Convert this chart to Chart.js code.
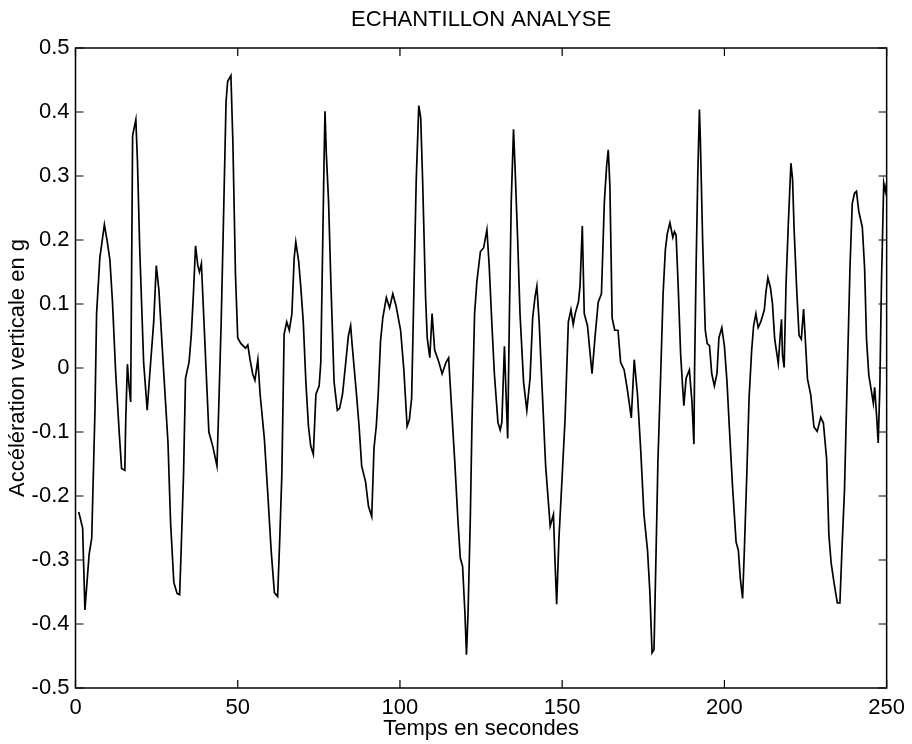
<!DOCTYPE html>
<html>
<head>
<meta charset="utf-8">
<script src="https://cdn.jsdelivr.net/npm/chart.js@4/dist/chart.umd.min.js"></script>
<style>
  html, body { margin: 0; padding: 0; background: #ffffff; }
  #wrap { width: 912px; height: 744px; }
</style>
</head>
<body>
<div id="wrap"><canvas id="c" width="912" height="744"></canvas></div>
<script>
// ---- Data ----
const chartTitle = "ECHANTILLON ANALYSE";
const xAxisTitle = "Temps en secondes";
const yAxisTitle = "Accélération verticale en g";

const xTickValues = [0, 50, 100, 150, 200, 250];
const yTickValues = [-0.5, -0.4, -0.3, -0.2, -0.1, 0, 0.1, 0.2, 0.3, 0.4, 0.5];

const times = [
  1.0, 2.2, 2.9, 4.2, 5.0, 6.0, 6.5, 7.5, 8.9, 9.8, 10.6, 11.4, 12.4, 13.5, 14.2, 15.2, 15.5, 16.0, 16.4, 17.0,
  17.6, 18.6, 19.1, 19.8, 21.0, 22.1, 22.9, 24.1, 24.9, 25.7, 27.0, 28.5, 29.3, 30.3, 31.3, 32.1, 32.6, 33.3, 33.9, 35.0,
  35.7, 36.4, 37.0, 37.7, 38.2, 38.8, 39.6, 40.3, 41.1, 42.3, 43.6, 44.2, 44.9, 45.6, 46.4, 46.9, 47.9, 48.5, 49.3, 50.0,
  51.0, 52.4, 53.1, 53.8, 54.6, 55.3, 56.2, 56.9, 58.2, 59.2, 60.3, 61.3, 62.3, 63.0, 63.6, 64.3, 65.1, 65.9, 66.7, 67.4,
  67.9, 68.8, 69.5, 70.2, 71.0, 71.8, 72.5, 73.3, 74.1, 75.1, 75.6, 76.1, 76.6, 76.9, 77.3, 78.0, 78.7, 79.7, 80.7, 81.4,
  82.3, 83.3, 84.1, 84.8, 85.3, 86.6, 87.4, 88.2, 89.4, 90.3, 91.3, 92.0, 92.7, 93.3, 94.0, 94.7, 95.8, 96.8, 97.8, 98.8,
  100.2, 101.2, 102.2, 102.9, 103.6, 104.3, 105.0, 105.8, 106.4, 107.0, 107.9, 108.4, 109.2, 109.9, 110.7, 112.0, 113.0, 114.2, 115.0, 115.8,
  116.9, 117.9, 118.6, 119.3, 120.0, 120.5, 121.0, 121.7, 122.2, 123.0, 123.7, 124.8, 125.8, 126.8, 127.5, 128.3, 129.1, 130.2, 130.9, 131.4,
  132.2, 132.7, 133.2, 133.7, 134.3, 135.0, 135.5, 136.3, 137.0, 138.1, 139.1, 140.1, 140.9, 141.6, 142.2, 142.9, 143.9, 144.9, 146.3, 147.3,
  147.8, 148.3, 149.0, 149.9, 150.9, 151.9, 152.7, 153.4, 154.0, 155.0, 155.5, 156.2, 156.8, 157.8, 158.5, 159.2, 160.1, 161.1, 162.1, 163.0,
  163.7, 164.2, 164.7, 165.4, 166.2, 167.2, 168.0, 169.1, 170.1, 171.3, 172.2, 173.2, 174.2, 175.2, 176.3, 177.0, 177.7, 178.3, 179.0, 179.5,
  180.4, 181.1, 181.8, 182.4, 183.2, 184.1, 184.6, 185.1, 185.7, 186.5, 187.1, 187.5, 188.2, 189.2, 190.0, 190.6, 190.8, 191.3, 191.8, 192.3,
  192.6, 193.3, 194.1, 194.7, 195.4, 196.1, 196.9, 197.7, 198.3, 199.2, 200.0, 200.8, 201.5, 202.5, 203.6, 204.3, 204.9, 205.6, 206.1, 206.9,
  207.6, 208.4, 209.0, 209.7, 210.4, 211.2, 212.3, 212.8, 213.4, 214.2, 214.8, 215.5, 216.6, 217.2, 217.6, 217.9, 218.4, 219.0, 219.7, 220.5,
  221.0, 221.5, 222.3, 223.0, 223.7, 224.4, 224.8, 225.6, 226.6, 227.6, 228.6, 229.7, 230.5, 231.5, 232.2, 232.9, 233.8, 234.8, 235.6, 236.3,
  237.0, 237.9, 238.7, 239.4, 240.1, 240.7, 241.4, 242.5, 243.2, 243.8, 244.5, 245.3, 245.9, 246.3, 246.9, 247.4, 247.9, 248.4, 249.1, 249.6,
  250.0
];

const accel = [
  -0.225, -0.250, -0.378, -0.291, -0.266, -0.066, 0.085, 0.172, 0.224, 0.197, 0.169, 0.103, -0.009, -0.103, -0.157, -0.160, -0.078, 0.006, -0.022, -0.053,
  0.363, 0.388, 0.322, 0.185, 0.009, -0.066, -0.009, 0.072, 0.160, 0.122, 0.009, -0.116, -0.241, -0.335, -0.352, -0.354, -0.279, -0.166, -0.016, 0.009,
  0.053, 0.122, 0.191, 0.160, 0.150, 0.163, 0.072, -0.009, -0.100, -0.122, -0.153, -0.053, 0.072, 0.229, 0.416, 0.448, 0.457, 0.354, 0.147, 0.047,
  0.038, 0.031, 0.036, 0.013, -0.009, -0.019, 0.013, -0.041, -0.110, -0.191, -0.285, -0.351, -0.357, -0.260, -0.166, 0.053, 0.072, 0.059, 0.085, 0.172,
  0.197, 0.166, 0.122, 0.072, -0.022, -0.091, -0.122, -0.135, -0.041, -0.028, 0.009, 0.166, 0.322, 0.401, 0.335, 0.260, 0.135, -0.022, -0.066, -0.063,
  -0.041, 0.009, 0.050, 0.066, 0.034, -0.041, -0.091, -0.153, -0.178, -0.216, -0.232, -0.125, -0.091, -0.041, 0.041, 0.078, 0.110, 0.094, 0.116, 0.097,
  0.059, -0.003, -0.091, -0.081, -0.047, 0.122, 0.291, 0.410, 0.391, 0.291, 0.110, 0.047, 0.016, 0.085, 0.028, 0.009, -0.009, 0.009, 0.016, -0.053,
  -0.147, -0.241, -0.297, -0.310, -0.380, -0.448, -0.380, -0.230, -0.085, 0.085, 0.135, 0.182, 0.188, 0.216, 0.160, 0.072, -0.009, -0.085, -0.097, -0.085,
  0.034, -0.041, -0.110, 0.072, 0.260, 0.373, 0.310, 0.197, 0.085, -0.022, -0.066, -0.016, 0.078, 0.110, 0.128, 0.072, -0.041, -0.153, -0.247, -0.229,
  -0.304, -0.369, -0.266, -0.178, -0.078, 0.072, 0.091, 0.068, 0.085, 0.103, 0.128, 0.222, 0.085, 0.066, 0.028, -0.009, 0.047, 0.103, 0.116, 0.260,
  0.316, 0.341, 0.285, 0.078, 0.059, 0.059, 0.009, -0.003, -0.034, -0.078, 0.013, -0.041, -0.128, -0.229, -0.285, -0.348, -0.445, -0.440, -0.272, -0.147,
  -0.003, 0.116, 0.185, 0.210, 0.227, 0.204, 0.213, 0.208, 0.135, 0.022, -0.028, -0.059, -0.016, -0.003, -0.053, -0.119, -0.003, 0.166, 0.304, 0.404,
  0.354, 0.197, 0.059, 0.038, 0.035, -0.009, -0.028, -0.009, 0.047, 0.063, 0.034, -0.022, -0.091, -0.185, -0.272, -0.285, -0.329, -0.360, -0.291, -0.166,
  -0.047, 0.028, 0.066, 0.085, 0.063, 0.072, 0.091, 0.119, 0.141, 0.125, 0.101, 0.045, 0.007, 0.051, 0.076, 0.020, 0.001, 0.132, 0.226, 0.320,
  0.295, 0.214, 0.120, 0.051, 0.045, 0.092, 0.057, -0.017, -0.042, -0.092, -0.099, -0.077, -0.086, -0.142, -0.261, -0.305, -0.336, -0.367, -0.367, -0.274,
  -0.192, -0.005, 0.157, 0.257, 0.273, 0.276, 0.245, 0.220, 0.157, 0.045, -0.011, -0.036, -0.055, -0.030, -0.074, -0.117, -0.030, 0.132, 0.289, 0.276,
  0.290
];

// ---- Styling ----
const FONT_FAMILY = '"Liberation Sans", Arial, Helvetica, sans-serif';
const FONT_SIZE = 22;
const INK = '#000000';
const TICK_LEN = 8;

// Box, inward ticks on all four sides, and the title centred over the axes (MATLAB style)
const boxAndTicks = {
  id: 'boxAndTicks',
  afterDatasetsDraw(chart) {
    const { ctx, chartArea: a, scales: { x, y } } = chart;
    ctx.save();
    ctx.strokeStyle = INK;
    ctx.lineWidth = 1.5;
    ctx.strokeRect(a.left, a.top, a.right - a.left, a.bottom - a.top);
    ctx.lineWidth = 1.2;
    ctx.beginPath();
    xTickValues.forEach(v => {
      const px = x.getPixelForValue(v);
      ctx.moveTo(px, a.bottom); ctx.lineTo(px, a.bottom - TICK_LEN);
      ctx.moveTo(px, a.top); ctx.lineTo(px, a.top + TICK_LEN);
    });
    yTickValues.forEach(v => {
      const py = y.getPixelForValue(v);
      ctx.moveTo(a.left, py); ctx.lineTo(a.left + TICK_LEN, py);
      ctx.moveTo(a.right, py); ctx.lineTo(a.right - TICK_LEN, py);
    });
    ctx.stroke();
    ctx.fillStyle = INK;
    ctx.font = FONT_SIZE + 'px ' + FONT_FAMILY;
    ctx.textAlign = 'center';
    ctx.textBaseline = 'middle';
    ctx.fillText(chartTitle, (a.left + a.right) / 2, a.top - 28);
    ctx.restore();
  }
};

new Chart(document.getElementById('c'), {
  type: 'line',
  data: {
    datasets: [{
      data: times.map((t, i) => ({ x: t, y: accel[i] })),
      borderColor: INK,
      borderWidth: 1.7,
      pointRadius: 0,
      tension: 0,
      fill: false
    }]
  },
  options: {
    responsive: false,
    animation: false,
    devicePixelRatio: 1,
    layout: { padding: { left: 0, right: 22.5, top: 48, bottom: 0 } },
    plugins: {
      legend: { display: false },
      tooltip: { enabled: false },
      title: { display: false }
    },
    scales: {
      x: {
        type: 'linear',
        min: 0, max: 250,
        afterBuildTicks: s => { s.ticks = xTickValues.map(v => ({ value: v })); },
        afterFit: s => { s.height = 56; },
        grid: { display: false, drawTicks: false },
        border: { display: false },
        ticks: {
          color: INK, padding: 7, maxRotation: 0, autoSkip: false,
          font: { family: FONT_FAMILY, size: FONT_SIZE },
          callback: v => String(v)
        },
        title: {
          display: true, text: xAxisTitle, color: INK,
          font: { family: FONT_FAMILY, size: FONT_SIZE, lineHeight: 1.2 },
          padding: { top: 0, bottom: 2 }
        }
      },
      y: {
        type: 'linear',
        min: -0.5, max: 0.5,
        afterBuildTicks: s => { s.ticks = yTickValues.map(v => ({ value: v })); },
        afterFit: s => { s.width = 75.5; },
        grid: { display: false, drawTicks: false },
        border: { display: false },
        ticks: {
          color: INK, padding: 6, autoSkip: false,
          font: { family: FONT_FAMILY, size: FONT_SIZE },
          callback: v => String(v)
        },
        title: {
          display: true, text: yAxisTitle, color: INK,
          font: { family: FONT_FAMILY, size: FONT_SIZE, lineHeight: 1.2 },
          padding: { top: 5, bottom: 0 }
        }
      }
    }
  },
  plugins: [boxAndTicks]
});
</script>
</body>
</html>
